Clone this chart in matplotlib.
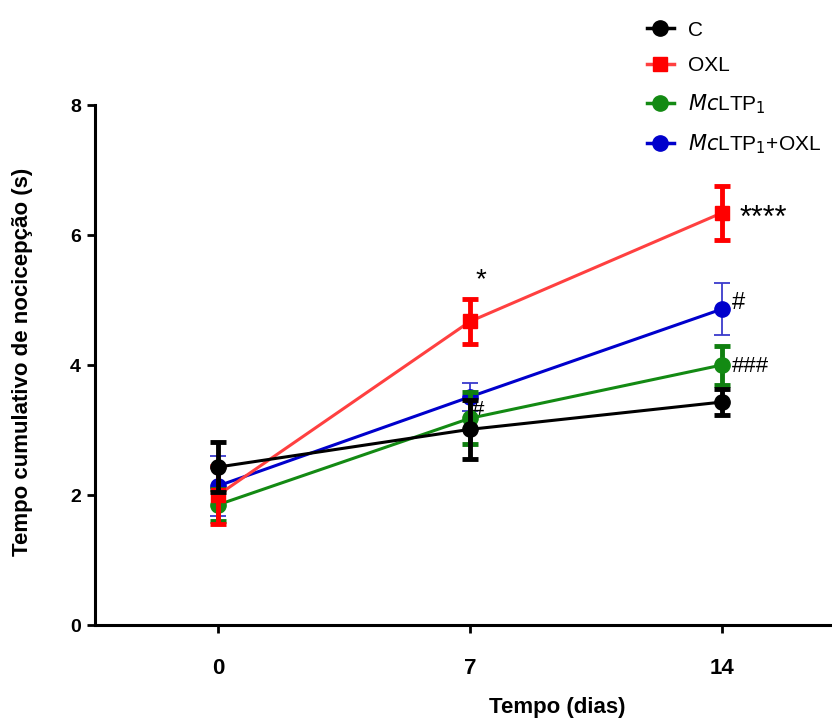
import matplotlib.pyplot as plt
from matplotlib.lines import Line2D

plt.rcParams['font.family'] = ['Liberation Sans', 'DejaVu Sans']

dias = [0, 7, 14]

c_mean = [2.43, 3.01, 3.43]
c_err = [0.38, 0.45, 0.20]

oxl_mean = [2.00, 4.67, 6.34]
oxl_err = [0.44, 0.34, 0.42]

ltp_mean = [1.85, 3.18, 4.00]
ltp_err = [0.25, 0.40, 0.30]

ltp_oxl_mean = [2.14, 3.51, 4.86]
ltp_oxl_err = [0.46, 0.22, 0.40]

fig = plt.figure(figsize=(8.32, 7.18), dpi=100)
ax = fig.add_axes([95/832, 1-625/718, 1-95/832, 520/718])

# blue series: thin error bars
ax.errorbar(dias, ltp_oxl_mean, yerr=ltp_oxl_err, color='#0000cc', ecolor='#3a3acc',
            marker='o', markersize=11, linewidth=2.2, elinewidth=1.3, capsize=6,
            capthick=1.3, zorder=3)
ax.errorbar(dias, ltp_mean, yerr=ltp_err, color='#138a13', ecolor='#0f7f0f',
            marker='o', markersize=11, linewidth=2.2, elinewidth=3.5, capsize=6,
            capthick=3.5, zorder=4)
ax.errorbar(dias, oxl_mean, yerr=oxl_err, color='#ff4040', ecolor='#ff0000',
            marker='s', markersize=10, markerfacecolor='#ff0000',
            markeredgecolor='#ff0000', linewidth=2.2, elinewidth=3.5,
            capsize=6, capthick=3.5, zorder=5)
ax.errorbar(dias, c_mean, yerr=c_err, color='black', marker='o', markersize=11,
            linewidth=2.2, elinewidth=3.5, capsize=6, capthick=3.5, zorder=6)

ax.set_xlim(-3.42, 17.06)
ax.set_ylim(0, 8)
ax.set_xticks(dias)
ax.set_xticklabels([str(d) for d in dias], fontweight='bold', fontsize=16)
ax.set_yticks([0, 2, 4, 6, 8])
ax.set_yticklabels(['0', '2', '4', '6', '8'], fontweight='bold', fontsize=14)
ax.tick_params(width=2, length=6, direction='out')
ax.tick_params(axis='y', pad=4)
ax.tick_params(axis='x', pad=18)
for s in ['top', 'right']:
    ax.spines[s].set_visible(False)
for s in ['left', 'bottom']:
    ax.spines[s].set_linewidth(2.2)

ax.set_ylabel('Tempo cumulativo de nocicepção (s)', fontweight='bold', fontsize=16)
ax.yaxis.set_label_coords(-(95-33)/737, (625-362)/520)
fig.text(557/832, 1-707/718, 'Tempo (dias)', fontweight='bold', fontsize=16,
         ha='center', va='center')

# significance marks
ax.text(7.3, 5.3, '*', fontsize=20, ha='center', va='center')
ax.text(14.48, 6.25, '****', fontsize=22, ha='left', va='center')
ax.text(14.28, 4.95, '#', fontsize=17, ha='left', va='center')
ax.text(14.28, 3.98, '###', fontsize=16, ha='left', va='center')
ax.text(7.05, 3.3, '#', fontsize=16, ha='left', va='center')

handles = [
    Line2D([], [], color='black', marker='o', markersize=11, linewidth=2.5),
    Line2D([], [], color='#ff4040', marker='s', markersize=10, markerfacecolor='#ff0000',
           markeredgecolor='#ff0000', linewidth=2.5),
    Line2D([], [], color='#138a13', marker='o', markersize=11, linewidth=2.5),
    Line2D([], [], color='#0000cc', marker='o', markersize=11, linewidth=2.5),
]
labels = ['C', 'OXL', '$\\mathit{Mc}$LTP$_1$', '$\\mathit{Mc}$LTP$_1$+OXL']
fig.legend(handles, labels, loc='upper left', bbox_to_anchor=(628/832, 1-2/718),
           frameon=False, fontsize=15, handlelength=1.3, labelspacing=0.8,
           handletextpad=0.7)

fig.savefig('out.png', dpi=100)
